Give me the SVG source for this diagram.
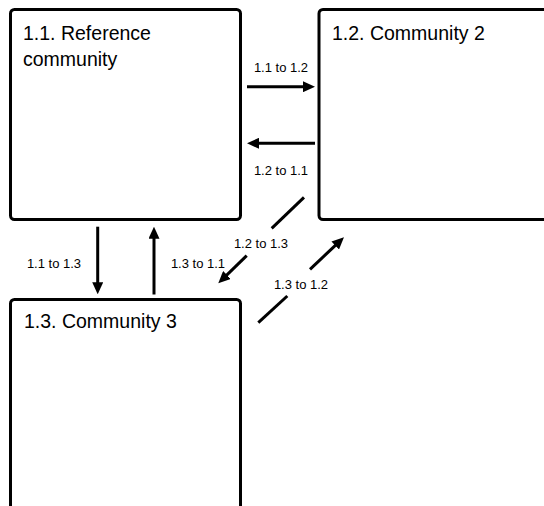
<svg xmlns="http://www.w3.org/2000/svg" width="544" height="506" viewBox="0 0 544 506">
<style>
.box{fill:#fff;stroke:#000;stroke-width:3}
.title{font-family:"Liberation Sans",Arial,sans-serif;font-size:19.5px;fill:#000}
.lbl{font-family:"Liberation Sans",Arial,sans-serif;font-size:13px;fill:#000;text-anchor:middle}
.c{stroke:#000;stroke-width:3;fill:none}
</style>
<defs>
<marker id="ah" markerUnits="userSpaceOnUse" markerWidth="12" markerHeight="11" refX="6" refY="5.5" orient="auto">
<path d="M0,0 L12,5.5 L0,11 z" fill="#000"/>
</marker>
</defs>
<rect width="544" height="506" fill="#fff"/>
<g id="n11">
<rect class="box" x="10.5" y="9.5" width="230" height="210" rx="4"/>
<text class="title" x="23" y="40">1.1. Reference</text>
<text class="title" x="23" y="66">community</text>
</g>
<g id="n12">
<rect class="box" x="319" y="9.5" width="260" height="210" rx="4"/>
<text class="title" x="332" y="40">1.2. Community 2</text>
</g>
<g id="n13">
<rect class="box" x="10.5" y="299.5" width="230" height="240" rx="4"/>
<text class="title" x="24" y="327.5">1.3. Community 3</text>
</g>
<g id="connectors">
<line class="c" x1="247" y1="86.7" x2="309" y2="86.7" marker-end="url(#ah)"/>
<text class="lbl" x="281" y="72">1.1 to 1.2</text>
<line class="c" x1="315" y1="143.3" x2="253" y2="143.3" marker-end="url(#ah)"/>
<text class="lbl" x="281" y="175">1.2 to 1.1</text>
<line class="c" x1="97.7" y1="226.7" x2="97.7" y2="288.3" marker-end="url(#ah)"/>
<text class="lbl" x="54" y="268.3">1.1 to 1.3</text>
<line class="c" x1="154" y1="294.5" x2="154" y2="232.7" marker-end="url(#ah)"/>
<text class="lbl" x="198" y="268.3">1.3 to 1.1</text>
<line class="c" x1="304" y1="197.3" x2="271.7" y2="228.3"/>
<line class="c" x1="246.7" y1="255.7" x2="222.6" y2="279.1" marker-end="url(#ah)"/>
<text class="lbl" x="261" y="248">1.2 to 1.3</text>
<line class="c" x1="258.3" y1="322.7" x2="287.3" y2="296"/>
<line class="c" x1="310" y1="269.3" x2="339.6" y2="241.4" marker-end="url(#ah)"/>
<text class="lbl" x="301" y="289">1.3 to 1.2</text>
</g>
</svg>
